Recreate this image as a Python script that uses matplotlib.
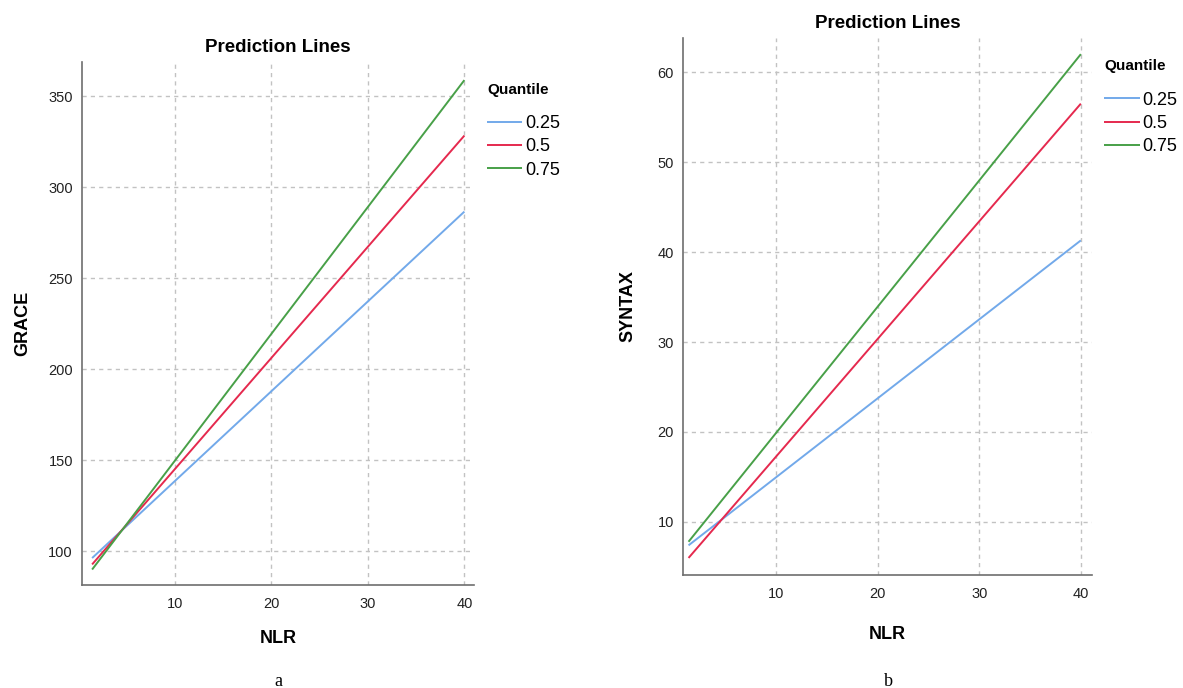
import matplotlib

matplotlib.use("Agg")
import matplotlib.pyplot as plt

plt.rcParams["font.family"] = ["Liberation Sans", "DejaVu Sans"]

# data (straight prediction lines, endpoints only)
nlr = [1.4, 40]
quantiles = ["0.25", "0.5", "0.75"]
grace = {
    "0.25": [96.2, 286.7],
    "0.5": [92.7, 328.5],
    "0.75": [89.9, 359.0],
}
syntax = {
    "0.25": [7.4, 41.3],
    "0.5": [6.0, 56.5],
    "0.75": [7.8, 62.0],
}
x_ticks = [10, 20, 30, 40]
grace_ticks = [100, 150, 200, 250, 300, 350]
syntax_ticks = [10, 20, 30, 40, 50, 60]

COLORS = {"0.25": "#72a9ea", "0.5": "#e5294e", "0.75": "#48a048"}
SPINE = "#6e6e6e"
GRID = "#c2c2c2"

fig = plt.figure(figsize=(11.83, 6.88), dpi=100)


def panel(rect, data, ylabel, xlim, ylim, yticks, leg_anchor, xpad, ypad):
    ax = fig.add_axes(rect)
    for q in quantiles:
        ax.plot(nlr, data[q], color=COLORS[q], lw=1.4, label=q, solid_capstyle="butt")
    ax.set_xlim(*xlim)
    ax.set_ylim(*ylim)
    ax.set_xticks(x_ticks)
    ax.set_yticks(yticks)
    ax.grid(True, color=GRID, ls=(0, (3, 3)), lw=1.0)
    ax.set_axisbelow(True)
    for s in ["top", "right"]:
        ax.spines[s].set_visible(False)
    for s in ["left", "bottom"]:
        ax.spines[s].set_color(SPINE)
        ax.spines[s].set_linewidth(1.2)
    ax.tick_params(length=0, labelsize=10.5, colors="#222222")
    ax.tick_params(axis="x", pad=8.5)
    ax.tick_params(axis="y", pad=6.5)
    ax.set_title("Prediction Lines", fontsize=13.5, fontweight="bold", pad=7)
    ax.set_xlabel("NLR", fontsize=13, fontweight="bold", labelpad=xpad)
    ax.set_ylabel(ylabel, fontsize=13, fontweight="bold", labelpad=ypad)
    leg = ax.legend(title="Quantile", loc="upper left", bbox_to_anchor=leg_anchor,
                    frameon=False, fontsize=13, handlelength=1.95, handletextpad=0.15,
                    labelspacing=0.35, borderaxespad=0, borderpad=0)
    leg.get_title().set_fontweight("bold")
    leg.get_title().set_fontsize(11)
    leg._legend_box.align = "left"
    leg._legend_box.sep = 13
    return ax


panel([0.0693, 0.150, 0.3314, 0.760], grace, "GRACE", (0.35, 41.0), (81.5, 369.0),
      grace_ticks, (1.033, 0.96), 14, 12)
panel([0.5773, 0.1642, 0.3458, 0.7806], syntax, "SYNTAX", (0.85, 41.1), (4.1, 63.8),
      syntax_ticks, (1.03, 0.96), 18, 15)

for letter, x in zip(["a", "b"], [278, 888]):
    fig.text(x / 1183, 1 - 681 / 688, letter, ha="center", va="center",
             fontsize=13, family=["Liberation Serif", "DejaVu Serif"])

fig.savefig("out.png", dpi=100)
